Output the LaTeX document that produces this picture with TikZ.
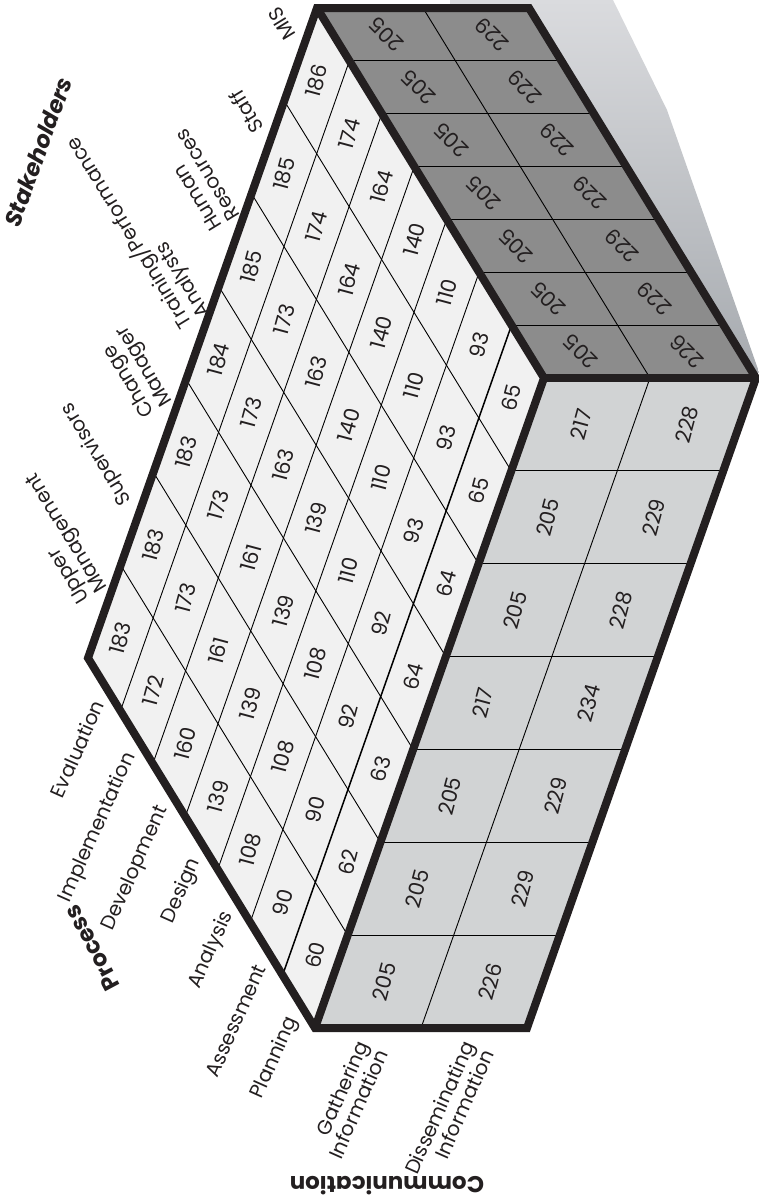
\documentclass[tikz,border=0pt]{standalone}
\usepackage{fontspec}
\setmainfont{Poppins}[BoldFont=* Bold, BoldItalicFont=* Bold Italic]
\usetikzlibrary{calc}

\definecolor{rimcol}{HTML}{231F20}
\definecolor{topcol}{HTML}{F1F1F1}
\definecolor{frontcol}{HTML}{D1D3D4}
\definecolor{sidecol}{HTML}{8C8C8C}
\definecolor{shadehi}{HTML}{DADBDE}
\definecolor{shadelo}{HTML}{A6AAAF}

\begin{document}
\begin{tikzpicture}[
  x=1pt, y=-1pt,
  rim/.style  ={draw=rimcol, line width=8pt, line join=miter},
  cellline/.style={draw=black, line width=0.9pt},
  val/.style  ={inner sep=0pt, text=rimcol, font=\fontsize{21}{23}\selectfont},
  lbl/.style  ={inner sep=0pt, text=rimcol, font=\fontsize{20}{21}\selectfont},
  ttl/.style  ={inner sep=0pt, text=rimcol, font=\fontsize{23}{26}\selectfont\bfseries},
]
\useasboundingbox (0,0) rectangle (759,1202);

% corners of the block
\coordinate (T)  at (317,8);
\coordinate (L)  at (88,658);
\coordinate (B)  at (315,1028);
\coordinate (R)  at (544,378);
\coordinate (TT) at (529,8);
\coordinate (RR) at (756,378);
\coordinate (BR) at (527,1028);

% soft shadow behind the side
\shade[top color=shadehi, bottom color=shadelo]
  (450,0) -- (613,0) -- (667,110) -- (759,372) -- (RR) -- (TT) -- (450,8) -- cycle;

% faces
\fill[topcol]   (L) -- (T) -- (R) -- (B) -- cycle;
\fill[frontcol] (B) -- (R) -- (RR) -- (BR) -- cycle;
\fill[sidecol]  (T) -- (TT) -- (RR) -- (R) -- cycle;

% top face: process x stakeholders
\begin{scope}[shift={(L)}, x={(32.71pt,92.86pt)}, y={(32.43pt,-52.86pt)}]
  \foreach \i in {1,...,6} {
    \draw[cellline] (\i,0) -- (\i,7);
  }
  \foreach \i in {1,...,5} {
    \draw[cellline] (0,\i) -- (7,\i);
  }
  \draw[cellline, line width=1.5pt] (0,6) -- (7,6);
  \foreach \row [count=\q from 0] in {
      {183,183,183,184,185,185,186},
      {172,173,173,173,173,174,174},
      {160,161,161,163,163,164,164},
      {139,139,139,139,140,140,140},
      {108,108,108,110,110,110,110},
      {90,90,92,92,93,93,93},
      {60,62,63,64,64,65,65}} {
    \foreach \v [count=\s from 0] in \row {
      \node[val, rotate=75] (top-\s-\q) at (\s+.5,\q+.5) {\v};
    }
  }
  % stakeholders
  \node[lbl, rotate=121.5, anchor=west, align=left] (upper) at (0.5,-0.3) {Upper\\Management};
  \node[lbl, rotate=121.5, anchor=west, align=left] (superv) at (1.5,-0.3) {Supervisors};
  \node[lbl, rotate=121.5, anchor=west, align=left] (change) at (2.5,-0.3) {Change\\Manager};
  \node[lbl, rotate=121.5, anchor=west, align=left] (training) at (3.5,-0.22) {Training/Performance\\Analysts};
  \node[lbl, rotate=121.5, anchor=west, align=left] (human) at (4.5,-0.3) {Human\\Resources};
  \node[lbl, rotate=121.5, anchor=west, align=left] (staff) at (5.5,-0.3) {Staff};
  \node[lbl, rotate=121.5, anchor=west, align=left] (mis) at (6.5,-0.3) {MIS};
  % process
  \node[lbl, rotate=66, anchor=east] (evaluation) at (-0.18,0.5) {Evaluation};
  \node[lbl, rotate=66, anchor=east] (implementation) at (-0.18,1.5) {Implementation};
  \node[lbl, rotate=66, anchor=east] (development) at (-0.18,2.5) {Development};
  \node[lbl, rotate=66, anchor=east] (design) at (-0.18,3.5) {Design};
  \node[lbl, rotate=66, anchor=east] (analysis) at (-0.18,4.5) {Analysis};
  \node[lbl, rotate=66, anchor=east] (assessment) at (-0.18,5.5) {Assessment};
  \node[lbl, rotate=66, anchor=east] (planning) at (-0.18,6.5) {Planning};
\end{scope}

% front face: stakeholders x communication
\begin{scope}[shift={(B)}, x={(32.71pt,92.86pt)}, y={(106pt,0pt)}]
  \foreach \i in {1,...,6} {
    \draw[cellline] (\i,0) -- (\i,2);
  }
  \draw[cellline] (0,1) -- (7,1);
  \foreach \col [count=\c from 0] in {
      {205,205,205,217,205,205,217},
      {226,229,229,234,228,229,228}} {
    \foreach \v [count=\s from 0] in \col {
      \node[val, rotate=75] (front-\s-\c) at (\s+.5,\c+.5) {\v};
    }
  }
  \node[lbl, rotate=66, anchor=east, align=right] (gather) at (-0.2,0.6) {Gathering\\Information};
  \node[lbl, rotate=66, anchor=east, align=right] (dissem) at (-0.2,1.6) {Disseminating\\Information};
\end{scope}

% side face: process x communication
\begin{scope}[shift={(T)}, x={(32.43pt,-52.86pt)}, y={(106pt,0pt)}]
  \foreach \i in {1,...,6} {
    \draw[cellline] (\i,0) -- (\i,2);
  }
  \draw[cellline] (0,1) -- (7,1);
  \foreach \col [count=\c from 0] in {
      {205,205,205,205,205,205,205},
      {229,229,229,229,229,229,226}} {
    \foreach \v [count=\k from 0] in \col {
      \node[val, rotate=135] (side-\k-\c) at (\k+.5,\c+.5) {\v};
    }
  }
\end{scope}

% heavy outline
\draw[rim] (L) -- (T) -- (TT) -- (RR) -- (BR) -- (B) -- cycle;
\draw[rim] (T) -- (R) -- (B);
\draw[rim] (R) -- (RR);

% axis titles
\node[ttl, rotate=70] (stakeholders) at (38,152) {\itshape Stakeholders};
\node[ttl, rotate=118] (process) at (92,948) {Process};
\node[ttl, rotate=180] (communication) at (387,1186) {Communication};

\end{tikzpicture}
\end{document}
